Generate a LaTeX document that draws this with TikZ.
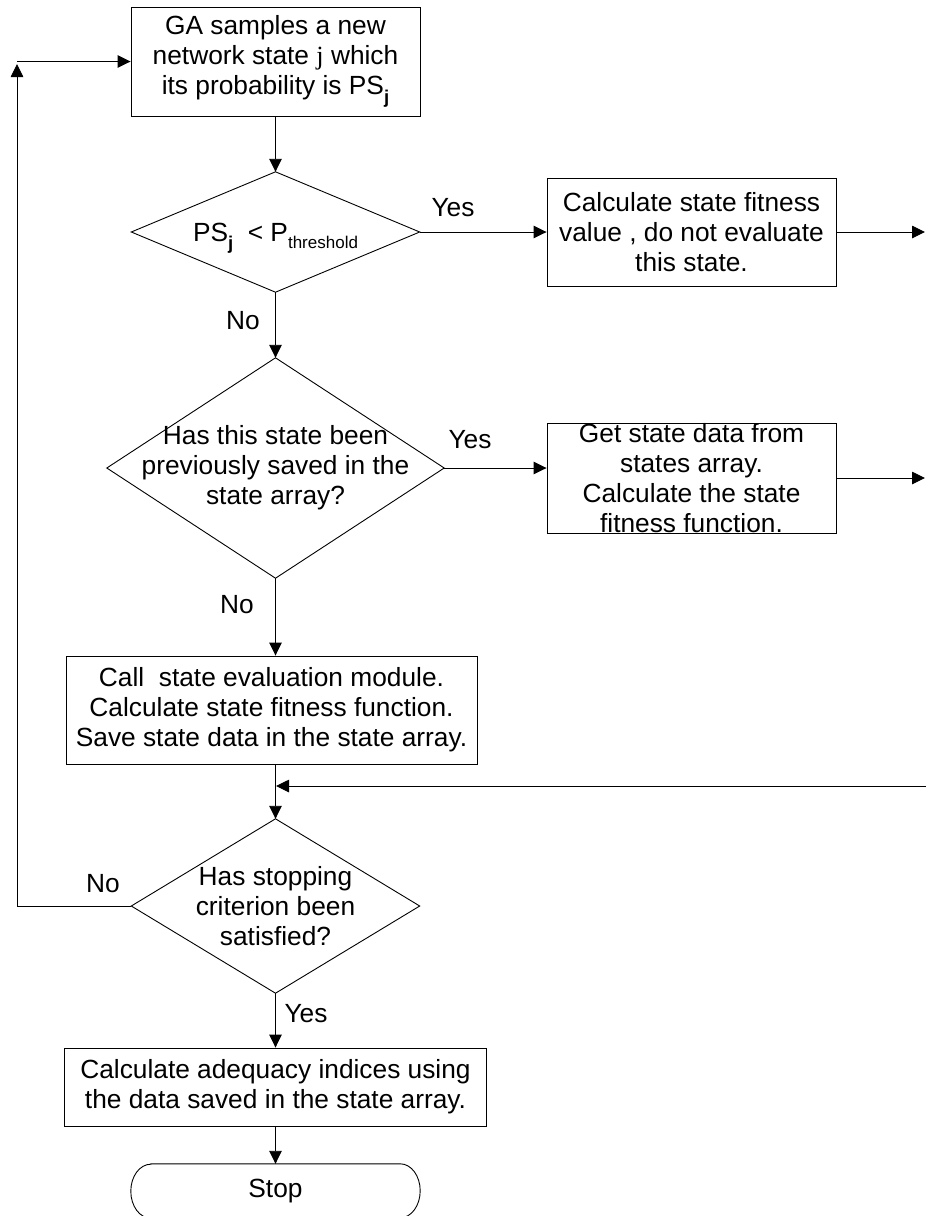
\documentclass[tikz,border=0pt]{standalone}
\usepackage{fontspec}
\setmainfont{Liberation Sans}
\newfontfamily\serifface{Liberation Serif}
\usetikzlibrary{arrows.meta}

\newcommand\mainsize{\fontsize{26.3}{30}\selectfont}
\newcommand\subj{\raisebox{-0.32em}{\fontsize{18.5}{18.5}\selectfont\bfseries j}}
\newcommand\subthr{\raisebox{-0.3em}{\fontsize{17}{17}\selectfont threshold}}

\tikzset{
  every node/.style={font=\mainsize, inner sep=0pt},
  box/.style={draw, line width=0.9pt, align=center},
  decision/.style={align=center},
  outline/.style={line width=0.9pt, line join=miter},
  arr/.style={-{Triangle[length=13pt,width=12.5pt]}, line width=0.9pt},
  lbl/.style={inner sep=0pt},
}

\begin{document}
\begin{tikzpicture}[x=1pt,y=1pt]
\useasboundingbox (0,0) rectangle (926,-1216);

% process boxes
\node[box, minimum width=289pt, minimum height=109pt] (top) at (275.5,-61.5)
  {GA samples a new\\network state {\serifface j} which\\its probability is PS\subj};
\node[box, minimum width=289pt, minimum height=108pt] (b2) at (691.5,-232)
  {Calculate state fitness\\value , do not evaluate\\this state.};
\node[box, minimum width=289pt, minimum height=110pt] (b3) at (691.5,-478)
  {\smash{\raisebox{-6pt}{\parbox[c]{289pt}{\centering Get state data from\\states array.\\Calculate the state\\fitness function.}}}};
\node[box, minimum width=411pt, minimum height=108pt] (b4) at (271.5,-710)
  {Call~ state evaluation module.\\Calculate state fitness function.\\Save state data in the state array.};
\node[box, minimum width=422pt, minimum height=78pt] (b5) at (275.5,-1087)
  {Calculate adequacy indices using\\the data saved in the state array.};

% decisions (outlines drawn through the anchors)
\node[decision, minimum width=288pt, minimum height=120pt] (d1) at (275.5,-232)
  {PS\smash{\subj}~ < P\smash{\subthr}};
\node[decision, minimum width=337pt, minimum height=220pt] (d2) at (275.5,-468)
  {Has this state been\\previously saved in the\\state array?};
\node[decision, minimum width=288pt, minimum height=174pt] (d3) at (275.5,-906)
  {Has stopping\\criterion been\\satisfied?};
\foreach \d in {d1,d2,d3}
  \draw[outline] (\d.north) -- (\d.east) -- (\d.south) -- (\d.west) -- cycle;

% terminator
\node[minimum width=289pt, minimum height=54pt] (stop) at (275.5,-1191) {Stop};
\draw[outline] ([xshift=20pt]stop.north west) -- ([xshift=-20pt]stop.north east)
  arc[start angle=90, end angle=-90, x radius=20pt, y radius=27pt]
  -- ([xshift=20pt]stop.south west)
  arc[start angle=270, end angle=90, x radius=20pt, y radius=27pt] -- cycle;

% branch labels
\node[lbl] (yes1) at (453,-208) {Yes};
\node[lbl] (no1) at (243,-321) {No};
\node[lbl] (yes2) at (470,-440) {Yes};
\node[lbl] (no2) at (237,-605) {No};
\node[lbl] (no3) at (103,-884) {No};
\node[lbl] (yes3) at (306,-1014) {Yes};

% free ends at the right margin and the loop corner
\coordinate (out1) at (925,-232);
\coordinate (out2) at (925,-478);
\coordinate (back) at (926,-786);
\coordinate (loopup) at (17,-64);
\coordinate (loopstart) at (17,-61.5);

% connectors
\draw[arr] (top.south) -- (d1.north);
\draw[arr] (d1.east) -- (b2.west);
\draw[arr] (b2.east) -- (out1);
\draw[arr] (d1.south) -- (d2.north);
\draw[arr] (d2.east) -- (d2.east -| b3.west);
\draw[arr] (b3.east) -- (out2);
\draw[arr] (d2.south) -- (d2.south |- b4.north);
\draw[arr] (d3.north |- b4.south) -- (d3.north);
\draw[arr] (back) -- ([xshift=0.5pt]d3.north |- back);
\draw[arr] (d3.south) -- (b5.north);
\draw[arr] (b5.south) -- (stop.north);
\draw[arr] (d3.west) -| (loopup);
\draw[arr] (loopstart) -- (top.west);
\end{tikzpicture}
\end{document}
